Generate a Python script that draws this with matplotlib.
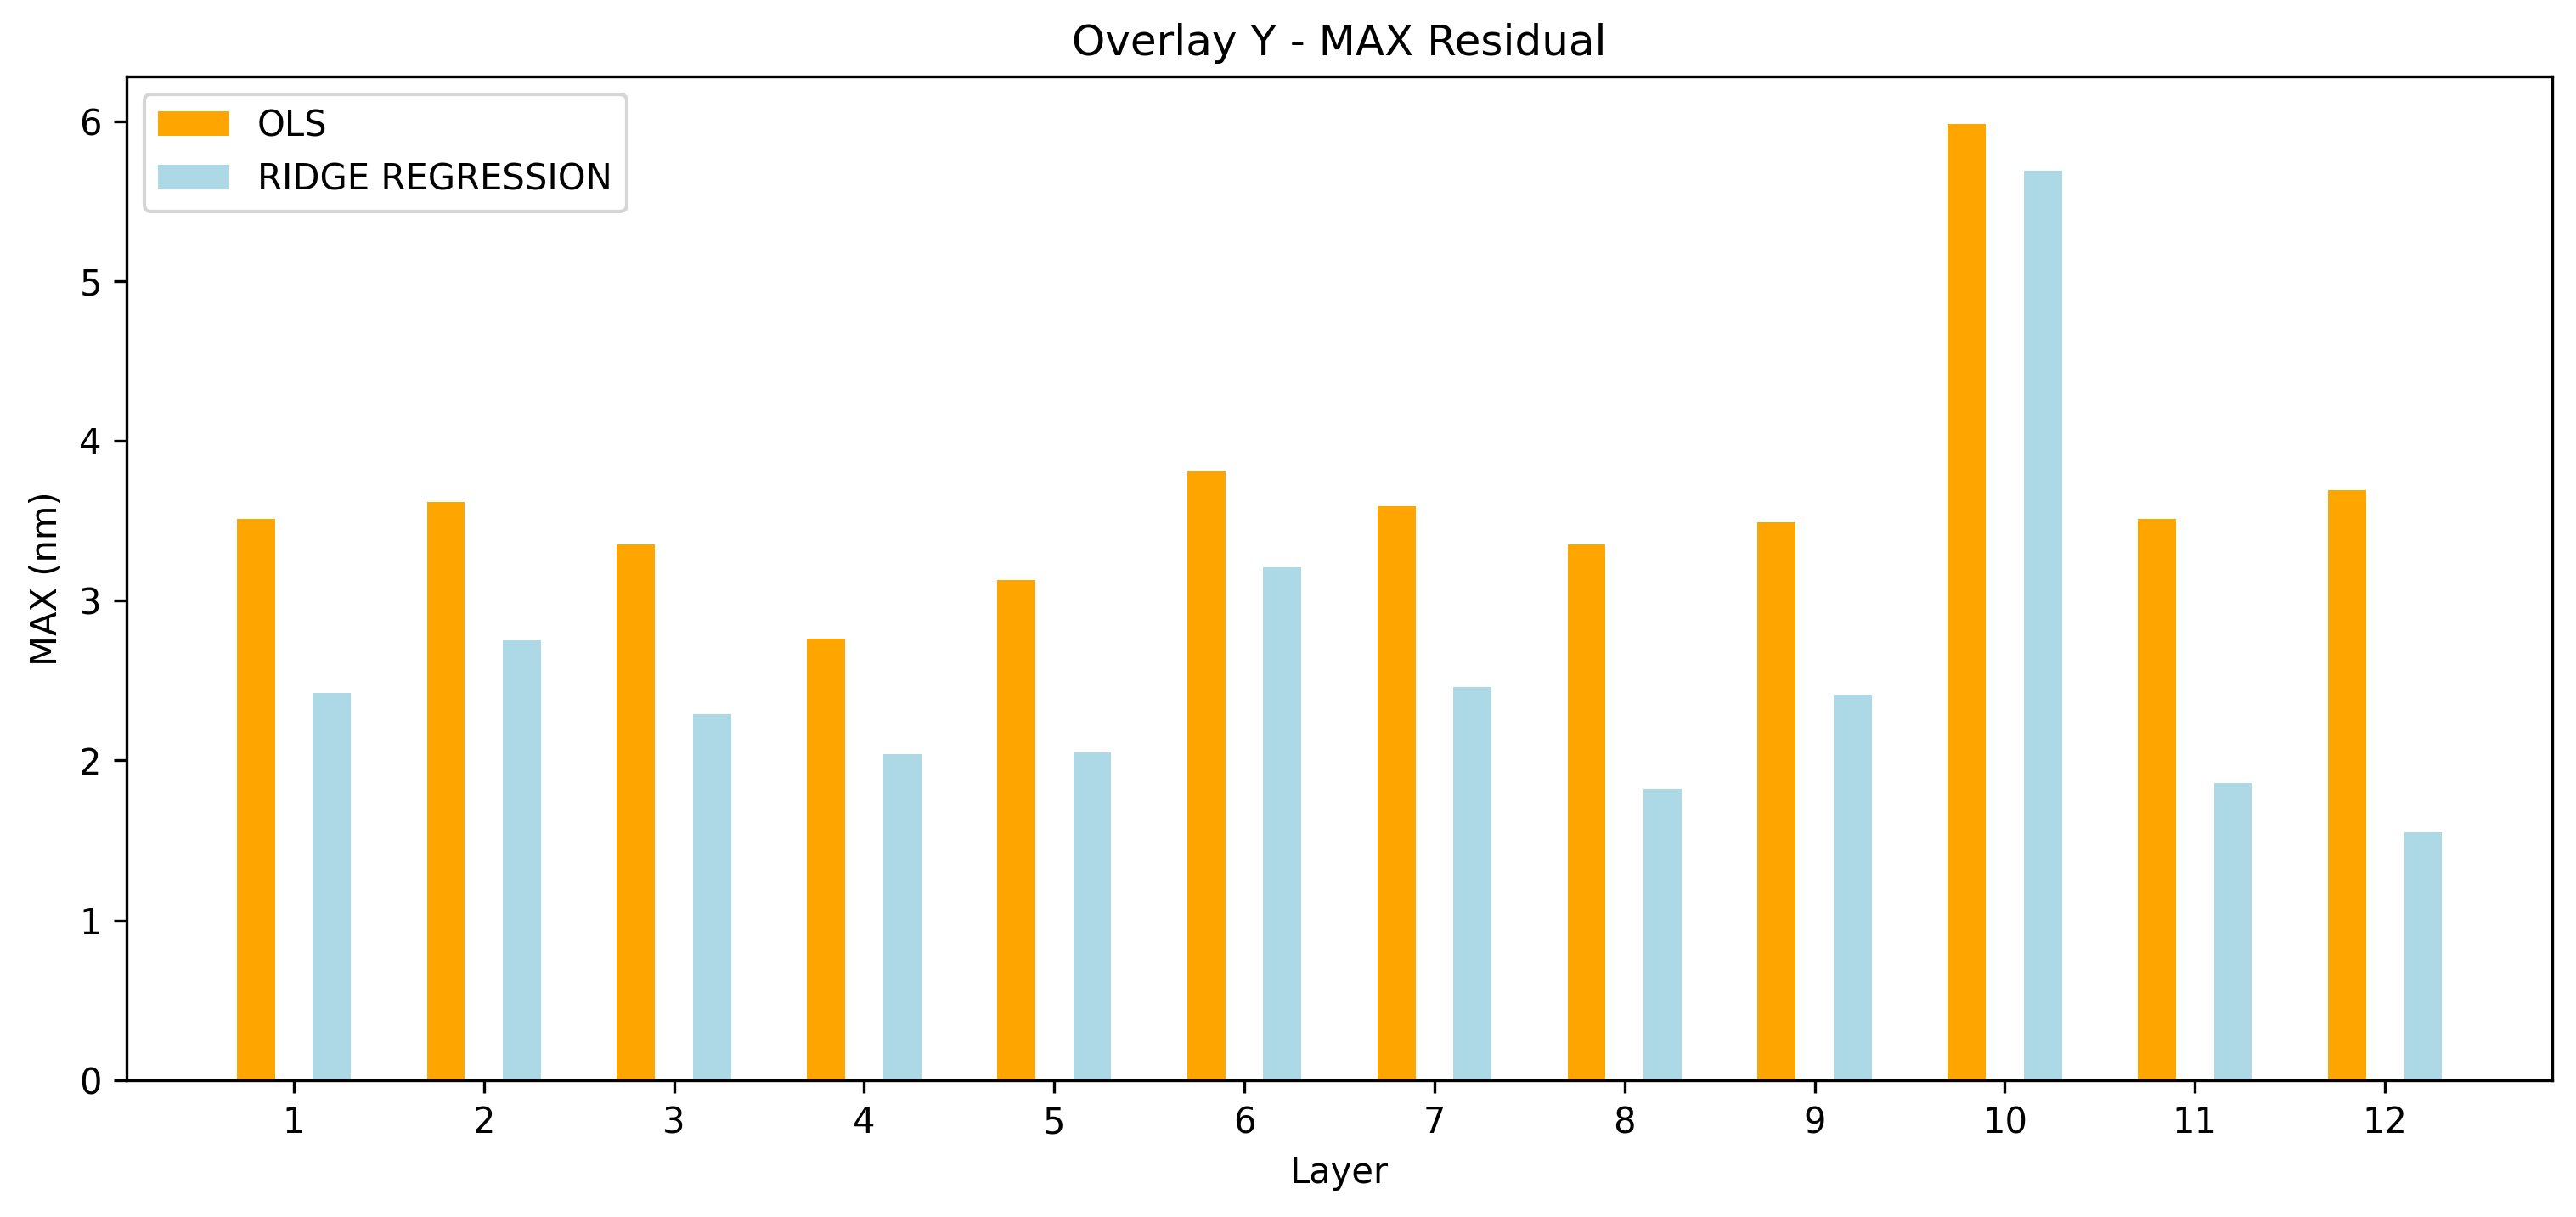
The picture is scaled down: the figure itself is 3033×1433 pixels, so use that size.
import numpy as np
import matplotlib
matplotlib.use('Agg')
import matplotlib.pyplot as plt

layers = [1, 2, 3, 4, 5, 6, 7, 8, 9, 10, 11, 12]
ols_max = [3.51, 3.62, 3.35, 2.76, 3.13, 3.81, 3.59, 3.35, 3.49, 5.98, 3.51, 3.69]
ridge_max = [2.42, 2.75, 2.29, 2.04, 2.05, 3.21, 2.46, 1.82, 2.41, 5.69, 1.86, 1.55]

x = np.array(layers)
width = 0.2

fig = plt.figure(figsize=(3033 / 300, 1433 / 300), dpi=300)
ax = fig.add_subplot(1, 1, 1)
fig.subplots_adjust(left=0.0491, right=0.9908, bottom=0.1124, top=0.9372)

ax.bar(x - width, ols_max, width, color='orange', label='OLS')
ax.bar(x + width, ridge_max, width, color='lightblue', label='RIDGE REGRESSION')

ax.set_xticks(x)
ax.set_xticklabels([str(l) for l in layers])
ax.set_xlabel('Layer')
ax.set_ylabel('MAX (nm)')
ax.set_title('Overlay Y - MAX Residual')
ax.legend(loc='upper left')

fig.savefig('out.png', dpi=300)
